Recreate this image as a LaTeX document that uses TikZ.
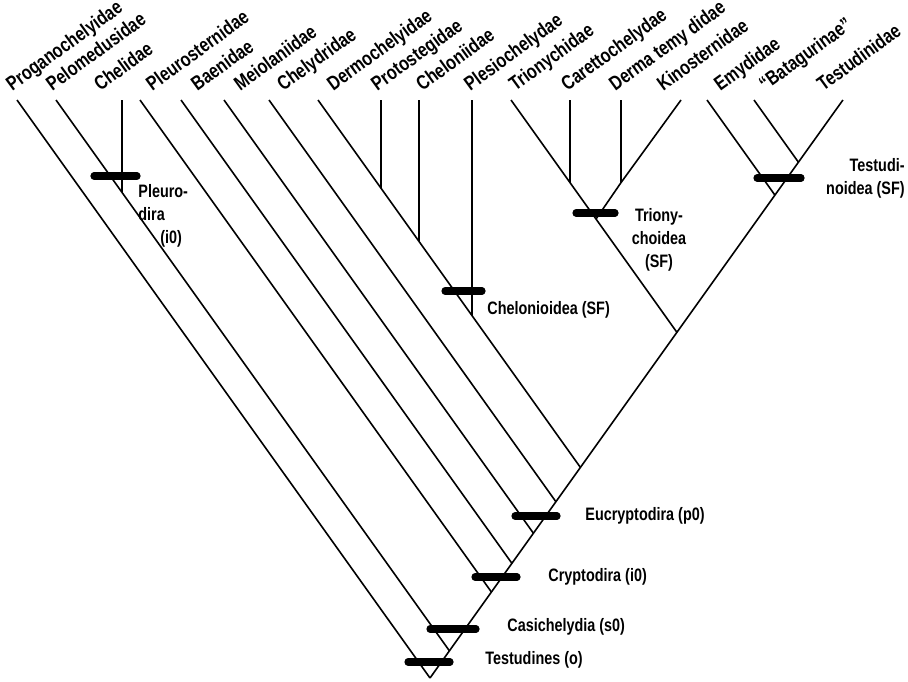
\documentclass[tikz,border=0pt]{standalone}
\usepackage{graphicx}
\usepackage{fontspec}
\setmainfont{Liberation Sans}[FakeStretch=0.8]
\newcommand{\taxlab}[1]{\rotatebox{36}{\smash{#1}}}
\begin{document}
\begin{tikzpicture}[x=0.5pt,y=-0.5pt,
  br/.style={line width=0.8pt},
  bar/.style={line width=3.6pt,line cap=round},
  tax/.style={anchor=south west,inner sep=0pt,font=\fontsize{10}{11}\selectfont\bfseries},
  lab/.style={inner sep=0pt,font=\fontsize{9}{11.5}\selectfont\bfseries}]
\useasboundingbox (0,0) rectangle (908,681);
% tops
\coordinate (tProg) at (17,100);
\coordinate (tPelo) at (56,100);
\coordinate (tChel) at (122,100);
\coordinate (tPleu) at (140,100);
\coordinate (tBaen) at (181,100);
\coordinate (tMeio) at (224,100);
\coordinate (tChely) at (269,100);
\coordinate (tDerm) at (318,100);
\coordinate (tProt) at (381,100);
\coordinate (tChelo) at (419,100);
\coordinate (tPles) at (472,100);
\coordinate (tTrio) at (511,100);
\coordinate (tCare) at (570,100);
\coordinate (tDmat) at (621,100);
\coordinate (tKino) at (681,100);
\coordinate (tEmyd) at (707,100);
\coordinate (tBata) at (754,100);
\coordinate (tTest) at (842.9,100);
% junctions
\coordinate (root) at (430,678);
\coordinate (nCasi) at (449.4,650.8);
\coordinate (nChel) at (122,192.4);
\coordinate (nCryp) at (491.4,592);
\coordinate (nBaen) at (511.9,563.3);
\coordinate (nMeio) at (533.4,533.2);
\coordinate (nChely) at (555.9,501.7);
\coordinate (nDerm) at (580.4,467.4);
\coordinate (nProt) at (381,188.2);
\coordinate (nChelo) at (419,241.4);
\coordinate (nPles) at (472,315.6);
\coordinate (nTrio) at (676.9,332.3);
\coordinate (nCare) at (570,182.6);
\coordinate (nDmat) at (621,182.6);
\coordinate (nKino) at (596,219);
\coordinate (nEmyd) at (774.9,195.1);
\coordinate (nBata) at (798.4,162.2);
% spine
\draw[br] (root) -- (nCasi) -- (nCryp) -- (nBaen) -- (nMeio) -- (nChely) -- (nDerm) -- (nTrio) -- (nEmyd) -- (nBata) -- (tTest);
% branches
\draw[br] (tProg) -- (root);
\draw[br] (tPelo) -- (nChel) -- (nCasi);
\draw[br] (tChel) -- (nChel);
\draw[br] (tPleu) -- (nCryp);
\draw[br] (tBaen) -- (nBaen);
\draw[br] (tMeio) -- (nMeio);
\draw[br] (tChely) -- (nChely);
\draw[br] (tDerm) -- (nProt) -- (nChelo) -- (nPles) -- (nDerm);
\draw[br] (tProt) -- (nProt);
\draw[br] (tChelo) -- (nChelo);
\draw[br] (tPles) -- (nPles);
\draw[br] (tTrio) -- (nCare) -- (nKino) -- (nTrio);
\draw[br] (tCare) -- (nCare);
\draw[br] (tKino) -- (nDmat) -- (nKino);
\draw[br] (tDmat) -- (nDmat);
\draw[br] (tEmyd) -- (nEmyd);
\draw[br] (tBata) -- (nBata);
% bars
\coordinate (bPl1) at (94,176); \coordinate (bPl2) at (137,176);
\coordinate (bCh1) at (445,291); \coordinate (bCh2) at (482,291);
\coordinate (bTr1) at (576,213); \coordinate (bTr2) at (615,213);
\coordinate (bTe1) at (757,178); \coordinate (bTe2) at (801,178);
\coordinate (bEu1) at (515,516); \coordinate (bEu2) at (557,516);
\coordinate (bCr1) at (475,577); \coordinate (bCr2) at (517,577);
\coordinate (bCa1) at (430,629); \coordinate (bCa2) at (476,629);
\coordinate (bTs1) at (408,662); \coordinate (bTs2) at (450,662);
\draw[bar] (bPl1) -- (bPl2);
\draw[bar] (bCh1) -- (bCh2);
\draw[bar] (bTr1) -- (bTr2);
\draw[bar] (bTe1) -- (bTe2);
\draw[bar] (bEu1) -- (bEu2);
\draw[bar] (bCr1) -- (bCr2);
\draw[bar] (bCa1) -- (bCa2);
\draw[bar] (bTs1) -- (bTs2);
% taxon labels
\node[tax] (lProg) at (12,92) {\taxlab{Proganochelyidae}};
\node[tax] (lPelo) at (52,92) {\taxlab{Pelomedusidae}};
\node[tax] (lChel) at (100,92) {\taxlab{Chelidae}};
\node[tax] (lPleu) at (152,92) {\taxlab{Pleurosternidae}};
\node[tax] (lBaen) at (197,92) {\taxlab{Baenidae}};
\node[tax] (lMeio) at (240,92) {\taxlab{Meiolaniidae}};
\node[tax] (lChely) at (283,92) {\taxlab{Chelydridae}};
\node[tax] (lDerm) at (333,92) {\taxlab{Dermochelyidae}};
\node[tax] (lProt) at (377,92) {\taxlab{Protostegidae}};
\node[tax] (lChelo) at (422,92) {\taxlab{Cheloniidae}};
\node[tax] (lPles) at (470,92) {\taxlab{Plesiochelydae}};
\node[tax] (lTrio) at (515,92) {\taxlab{Trionychidae}};
\node[tax] (lCare) at (567,92) {\taxlab{Carettochelydae}};
\node[tax] (lDmat) at (615,92) {\taxlab{Derma temy didae}};
\node[tax] (lKino) at (663,92) {\taxlab{Kinosternidae}};
\node[tax] (lEmyd) at (720,92) {\taxlab{Emydidae}};
\node[tax] (lBata) at (765,92) {\taxlab{“Batagurinae”}};
\node[tax] (lTest) at (823,92) {\taxlab{Testudinidae}};
% clade labels
\node[lab,align=left,anchor=north west] (cPleu) at (138,184) {Pleuro-\\dira\\\hspace*{11pt}(i0)};
\node[lab,anchor=west] (cChel) at (487,310) {Chelonioidea (SF)};
\node[lab,align=center,anchor=north] (cTrio) at (659,208) {Triony-\\choidea\\(SF)};
\node[lab,align=right,anchor=north east] (cTest) at (905,158) {Testudi-\\noidea (SF)};
\node[lab,anchor=west] (cEucr) at (585,516) {Eucryptodira (p0)};
\node[lab,anchor=west] (cCryp) at (548,577) {Cryptodira (i0)};
\node[lab,anchor=west] (cCasi) at (507,627) {Casichelydia (s0)};
\node[lab,anchor=west] (cTsd) at (485,660) {Testudines (o)};
\end{tikzpicture}
\end{document}
